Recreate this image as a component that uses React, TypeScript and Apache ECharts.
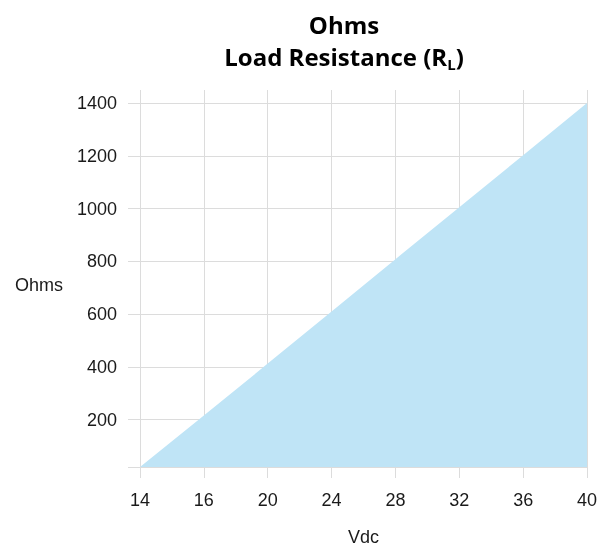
import { useEffect, useRef } from 'react';
import * as echarts from 'echarts';

const categories = ['14', '16', '20', '24', '28', '32', '36', '40'];
const ohmsValues = [20, 215, 412, 610, 808, 1005, 1202, 1400];
const yMin = 20;
const yMax = 1400;
const yTickValues = [20, 200, 400, 600, 800, 1000, 1200, 1400];
const yLabelValues = [200, 400, 600, 800, 1000, 1200, 1400];
const titleLine1 = 'Ohms';
const titleLine2 = 'Load Resistance (R';
const titleSub = 'L';
const titleEnd = ')';
const xName = 'Vdc';
const yName = 'Ohms';

export default function App() {
  const ref = useRef<HTMLDivElement>(null);
  useEffect(() => {
    const chart = echarts.init(ref.current!, null, { renderer: 'svg' });
    const tf = '"Open Sans", "Noto Sans", sans-serif';
    const ctx = document.createElement('canvas').getContext('2d')!;
    ctx.font = 'bold 24px ' + tf;
    const wMain = ctx.measureText(titleLine2).width;
    const wEnd = ctx.measureText(titleEnd).width;
    ctx.font = 'bold 15px ' + tf;
    const wSub = ctx.measureText(titleSub).width;
    const cx = 344;
    const total = wMain + wSub + wEnd;
    const start = cx - total / 2;
    const grid = '#dcdcdc';
    const lf = '"Liberation Sans", Arial, sans-serif';
    const txtColor = '#1a1a1a';
    const t = (text: string, x: number, y: number, size: number, align: string) => ({
      type: 'text', x, y,
      style: {
        text, fontFamily: tf, fontSize: size, fontWeight: 'bold', fill: '#000',
        textAlign: align, textVerticalAlign: 'middle', align, verticalAlign: 'middle',
      },
    });

    chart.setOption({
      animation: false,
      graphic: [
        t(titleLine1, cx, 24, 24, 'center'),
        t(titleLine2, start, 56, 24, 'left'),
        t(titleSub, start + wMain, 64, 15, 'left'),
        t(titleEnd, start + wMain + wSub, 56, 24, 'left'),
      ],
      grid: { left: 140, right: 13, top: 103, bottom: 79, outerBoundsMode: 'none', containLabel: false },
      xAxis: [
        {
          type: 'category', data: categories, boundaryGap: false, position: 'bottom',
          axisLine: { show: true, lineStyle: { color: grid } },
          axisTick: { show: true, length: 11, interval: 0, lineStyle: { color: grid } },
          axisLabel: { interval: 0, color: txtColor, fontSize: 18, fontFamily: lf, margin: 24 },
          splitLine: { show: true, interval: 0, lineStyle: { color: grid } },
          name: xName, nameLocation: 'middle', nameGap: 61,
          nameTextStyle: { color: txtColor, fontSize: 18, fontFamily: lf },
        },
        {
          type: 'category', data: categories, boundaryGap: false, position: 'top',
          axisLine: { show: false },
          axisTick: { show: true, length: 13, interval: 0, lineStyle: { color: grid } },
          axisLabel: { show: false },
          splitLine: { show: false },
        },
      ],
      yAxis: {
        type: 'value', min: yMin, max: yMax,
        axisLine: { show: false },
        axisTick: { show: true, length: 12, customValues: yTickValues, lineStyle: { color: grid } },
        axisLabel: {
          color: txtColor, fontSize: 18, fontFamily: lf, margin: 23,
          customValues: yLabelValues,
          formatter: (v: number) => String(v),
        },
        splitLine: { show: true, lineStyle: { color: grid } },
        name: yName, nameLocation: 'middle', nameRotate: 0, nameGap: 77,
        nameTextStyle: { color: txtColor, fontSize: 18, fontFamily: lf },
      },
      series: [
        {
          type: 'line', data: ohmsValues, xAxisIndex: 0, symbol: 'none', silent: true,
          lineStyle: { width: 0 },
          areaStyle: { color: '#bfe4f6', opacity: 1 },
        },
      ],
    });
    return () => chart.dispose();
  }, []);
  return <div ref={ref} style={{ position: 'fixed', left: 0, top: 0, width: 600, height: 546 }} />;
}
